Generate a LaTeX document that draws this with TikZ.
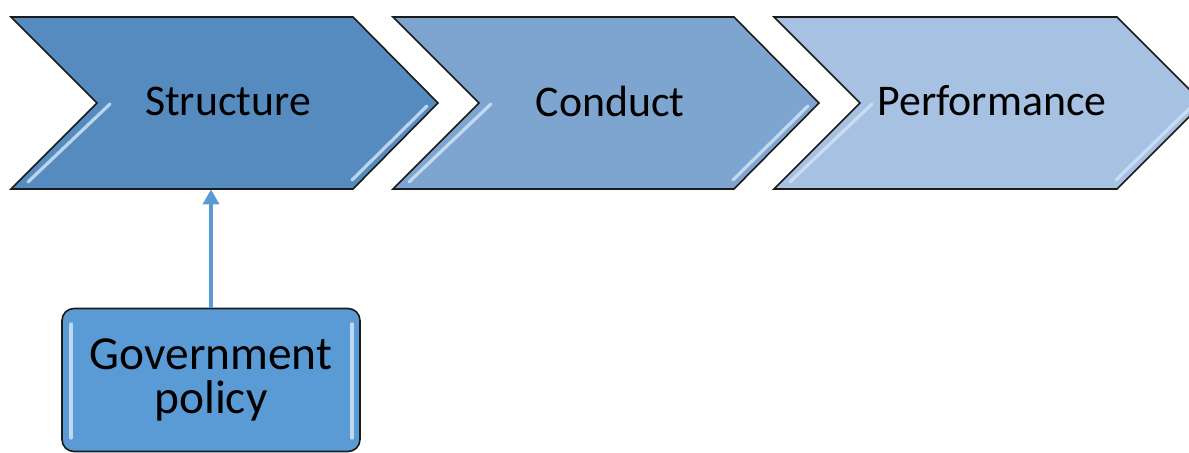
\documentclass[tikz,border=0pt]{standalone}
\usepackage{fontspec}
\setmainfont{Carlito}
\usetikzlibrary{arrows.meta}
\definecolor{cA}{HTML}{568BBF}
\definecolor{cB}{HTML}{7EA5D0}
\definecolor{cC}{HTML}{A6C1E1}
\definecolor{cBox}{HTML}{5B9BD5}
\definecolor{hl}{HTML}{CFE3F5}
\definecolor{edge}{HTML}{1A1A1A}
\tikzset{
  chevshape/.style={draw=edge, line width=0.8pt, line join=miter},
  hlline/.style={draw=hl, line width=1.6pt, opacity=0.85, line cap=round},
  chevlabel/.style={font=\fontsize{21.9pt}{24pt}\selectfont, text=black, inner sep=0pt},
  area/.style={inner sep=0pt, minimum width=427*0.5pt, minimum height=172*0.5pt},
  govbox/.style={draw=edge, line width=0.8pt, fill=cBox, rounded corners=6pt,
    minimum width=298*0.5pt, minimum height=143*0.5pt, inner sep=0pt,
    align=center, font=\fontsize{23.7pt}{21.8pt}\selectfont},
  link/.style={draw=cBox, line width=2pt, -{Triangle[width=8pt,length=7.5pt]}}
}
\begin{document}
\begin{tikzpicture}[x=0.5pt,y=-0.5pt]
\useasboundingbox (0,0) rectangle (1189,453);
\clip (0,0) rectangle (1189,453);
% chevron 1
\path[chevshape, fill=cA] (11,17) -- (353,17) -- (438,103) -- (353,189) -- (11,189) -- (97,103) -- cycle;
\draw[hlline] (110,104) -- (28,182);
\draw[hlline] (427,106) -- (352,180);
\node[area] (chev1) at (224.5,103) {};
\node[chevlabel] (t1) at (228,101) {Structure};
% chevron 2
\path[chevshape, fill=cB] (393,17) -- (734,17) -- (819,103) -- (734,189) -- (393,189) -- (479,103) -- cycle;
\draw[hlline] (491,104) -- (409,182);
\draw[hlline] (808,106) -- (733,180);
\node[area] (chev2) at (606,103) {};
\node[chevlabel] (t2) at (610,101) {Conduct};
% chevron 3
\path[chevshape, fill=cC] (774,17) -- (1117,17) -- (1203,103) -- (1117,189) -- (774,189) -- (860,103) -- cycle;
\draw[hlline] (872,104) -- (790,182);
\draw[hlline] (1192,106) -- (1116,180);
\node[area] (chev3) at (988.5,103) {};
\node[chevlabel] (t3) at (992,101) {Performance};
% government policy box
\node[govbox] (gov) at (211,380) {Government\\policy};
\draw[hlline] (71,324) -- (71,438);
\draw[hlline] (352,324) -- (352,438);
% connector
\draw[link] (gov.north) -- (gov.north |- chev1.south);
\end{tikzpicture}
\end{document}
